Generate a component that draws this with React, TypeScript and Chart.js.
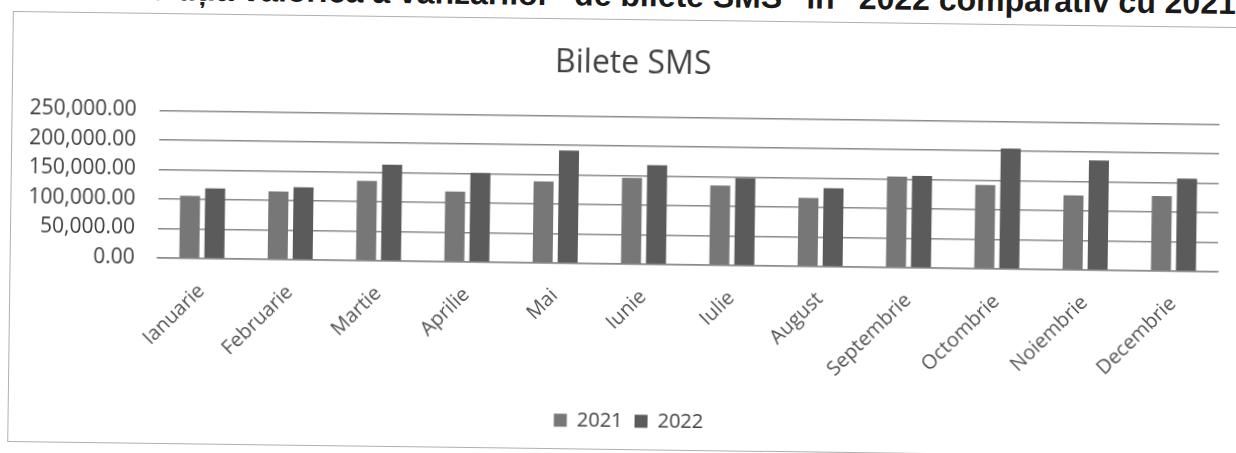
import React, { useEffect, useRef } from "react";
import { Chart, registerables } from "chart.js";

Chart.register(...registerables);

const pageHeading = 'Evoluția valorică a vânzărilor "de bilete SMS" în "2022 comparativ cu 2021"';
const chartTitle = "Bilete SMS";
const months = [
  "Ianuarie",
  "Februarie",
  "Martie",
  "Aprilie",
  "Mai",
  "Iunie",
  "Iulie",
  "August",
  "Septembrie",
  "Octombrie",
  "Noiembrie",
  "Decembrie",
];
const seriesLabels = ["2021", "2022"];
const values2021 = [106000, 115000, 135000, 119000, 138000, 146000, 135000, 116000, 154000, 142000, 126000, 127000];
const values2022 = [119000, 123000, 163000, 151000, 191000, 168000, 148000, 133000, 156000, 204000, 186000, 157000];
const yMin = 0;
const yMax = 250000;
const yStep = 50000;

const FONT = "'Open Sans', 'DejaVu Sans', sans-serif";

// Let the y tick labels extend to the left of the (narrow) y-axis box without being clipped.
const unclipYLabels = {
  id: "unclipYLabels",
  afterLayout(chart: any) {
    const y = chart.scales.y;
    if (y) y.left = 0;
  },
};

export default function App() {
  const ref = useRef<HTMLCanvasElement>(null);

  useEffect(() => {
    if (!ref.current) return;
    const chart = new Chart(ref.current, {
      type: "bar",
      data: {
        labels: months,
        datasets: [
          {
            label: seriesLabels[0],
            data: values2021,
            backgroundColor: "#777777",
            borderWidth: 0,
            barPercentage: 0.8,
            categoryPercentage: 0.566,
          },
          {
            label: seriesLabels[1],
            data: values2022,
            backgroundColor: "#5b5b5b",
            borderWidth: 0,
            barPercentage: 0.8,
            categoryPercentage: 0.566,
          },
        ],
      },
      options: {
        animation: false,
        responsive: false,
        devicePixelRatio: 1,
        layout: { padding: { left: 33, right: 31, top: 0, bottom: 8 } },
        plugins: {
          title: {
            display: true,
            text: chartTitle,
            color: "#404040",
            font: { family: FONT, size: 32, weight: "normal" },
            padding: { top: 25, bottom: 33 },
          },
          legend: {
            position: "bottom",
            labels: {
              boxWidth: 13,
              boxHeight: 13,
              padding: 12,
              color: "#404040",
              font: { family: FONT, size: 20 },
            },
          },
          tooltip: { enabled: false },
        },
        scales: {
          x: {
            grid: { display: false, drawTicks: false },
            border: { display: true, color: "#8a8a8a", width: 1.5 },
            ticks: {
              minRotation: 45,
              maxRotation: 45,
              padding: 21,
              color: "#555555",
              font: { family: FONT, size: 20 },
            },
            afterFit: (s: any) => {
              s.height = 135;
            },
          },
          y: {
            min: yMin,
            max: yMax,
            grid: { color: "#8a8a8a", lineWidth: 1.5, drawTicks: false },
            border: { display: false },
            ticks: {
              stepSize: yStep,
              padding: 23,
              color: "#3c3c3c",
              font: { family: FONT, size: 21 },
              callback: (v: any) =>
                Number(v).toLocaleString("en-US", { minimumFractionDigits: 2, maximumFractionDigits: 2 }),
            },
            afterFit: (s: any) => {
              s.width = 114;
            },
          },
        },
      },
      plugins: [unclipYLabels],
    });
    return () => chart.destroy();
  }, []);

  return (
    <div
      style={{
        position: "fixed",
        left: 0,
        top: 0,
        width: 1236,
        height: 453,
        overflow: "hidden",
        background: "#ffffff",
      }}
    >
      <div
        style={{
          position: "absolute",
          left: 0,
          top: 0,
          width: 1236,
          height: 453,
          transform: "rotate(0.75deg)",
          transformOrigin: "10px 230px",
        }}
      >
        <div
          style={{
            position: "absolute",
            left: 10,
            top: 11,
            width: 1240,
            height: 431,
            boxSizing: "border-box",
            border: "1px solid #b0b0b0",
            background: "#ffffff",
          }}
        >
          <canvas ref={ref} width={1238} height={429} style={{ width: 1238, height: 429, display: "block" }} />
        </div>
        <div
          style={{
            position: "absolute",
            right: -12,
            top: -29,
            whiteSpace: "nowrap",
            font: "bold 32px 'Liberation Sans', Arial, sans-serif",
            lineHeight: "32px",
            color: "#1a1a1a",
          }}
        >
          {pageHeading}
        </div>
      </div>
    </div>
  );
}
